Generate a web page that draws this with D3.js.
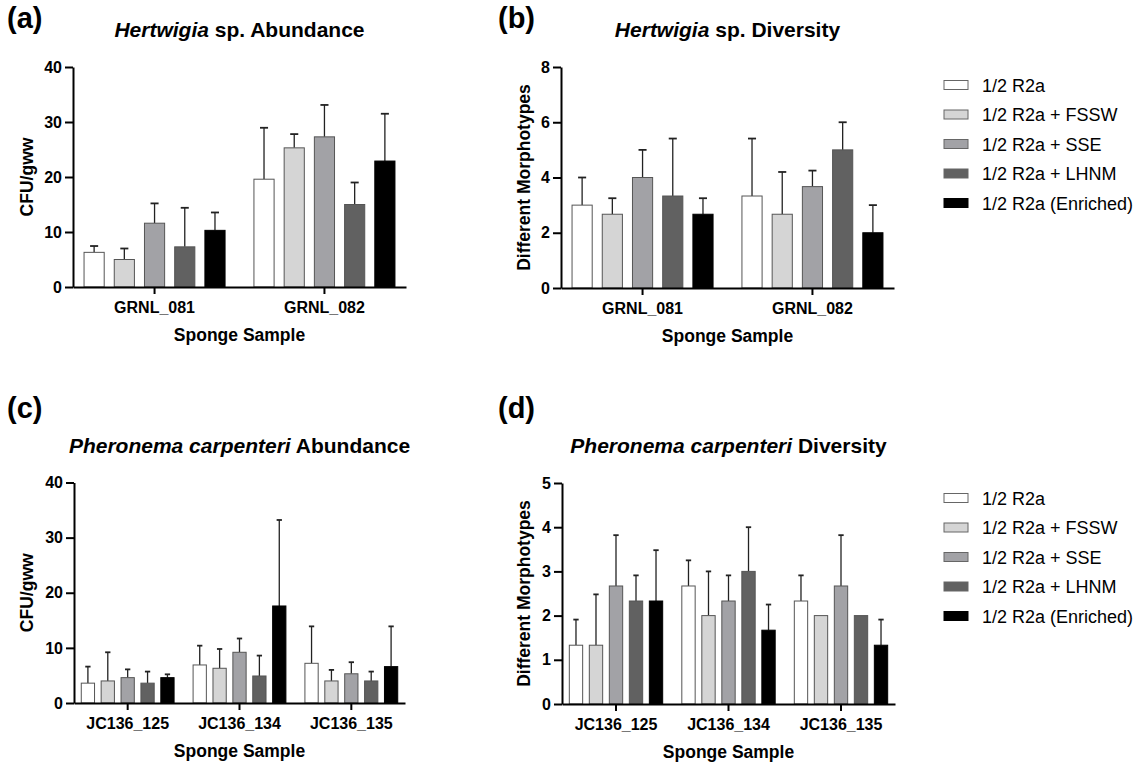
<!DOCTYPE html>
<html>
<head>
<meta charset="utf-8">
<script src="https://cdn.jsdelivr.net/npm/d3@7"></script>
<style>
  body { margin: 0; background: #fff; }
  svg { font-family: Arial, "Liberation Sans", sans-serif; }
  .axis path, .axis line { stroke: #000; stroke-width: 2; }
  .axis text { font-size: 16px; font-weight: bold; fill: #000; }
</style>
</head>
<body>
<svg width="1140" height="764"></svg>
<script>
"use strict"

// media treatments (legend order) and their fills
var media = ["1/2 R2a", "1/2 R2a + FSSW", "1/2 R2a + SSE", "1/2 R2a + LHNM", "1/2 R2a (Enriched)"];
var fills = ["#ffffff", "#d5d5d5", "#a2a2a6", "#616161", "#000000"];

var hertSamples = ["GRNL_081", "GRNL_082"];
var pherSamples = ["JC136_125", "JC136_134", "JC136_135"];

// means and upper error (SD) per sample, one value per medium
var hertAbundMean = [[6.3, 5.0, 11.6, 7.3, 10.3], [19.6, 25.3, 27.3, 15.0, 22.9]];
var hertAbundErr  = [[1.15, 2.0, 3.6, 7.1, 3.25], [9.35, 2.5, 5.8, 4.0, 8.6]];
var hertDivMean   = [[3, 2.67, 4, 3.33, 2.67], [3.33, 2.67, 3.67, 5, 2]];
var hertDivErr    = [[1, 0.58, 1, 2.08, 0.58], [2.08, 1.53, 0.58, 1, 1]];
var pherAbundMean = [[3.6, 4.0, 4.6, 3.6, 4.6], [6.9, 6.3, 9.2, 4.9, 17.6], [7.2, 4.0, 5.3, 4.0, 6.6]];
var pherAbundErr  = [[3.0, 5.2, 1.5, 2.1, 0.6], [3.5, 3.5, 2.5, 3.7, 15.6], [6.7, 2.0, 2.1, 1.7, 7.3]];
var pherDivMean   = [[1.33, 1.33, 2.67, 2.33, 2.33], [2.67, 2.0, 2.33, 3.0, 1.67], [2.33, 2.0, 2.67, 2.0, 1.33]];
var pherDivErr    = [[0.58, 1.15, 1.15, 0.58, 1.15], [0.58, 1.0, 0.58, 1.0, 0.58], [0.58, 0, 1.15, 0, 0.58]];

var abundTicks = [0, 10, 20, 30, 40];
var hertDivTicks = [0, 2, 4, 6, 8];
var pherDivTicks = [0, 1, 2, 3, 4, 5];

var svg = d3.select("svg");

var draw_panel = function(p) {
    var g = svg.append("g");
    var x = d3.scaleBand().domain(p.samples).range([p.x0, p.x1])
        .paddingInner(0.17).paddingOuter(0.065);
    var xi = d3.scaleBand().domain(media).range([0, x.bandwidth()])
        .paddingInner(0.333).paddingOuter(0);
    var y = d3.scaleLinear().domain([0, p.ticks[p.ticks.length - 1]]).range([p.y0, p.y1]);

    // panel letter and title
    g.append("text").attr("x", p.lx).attr("y", p.ly)
        .attr("font-size", 29).attr("font-weight", "bold").text(p.letter);
    var t = g.append("text").attr("x", (p.x0 + p.x1) / 2).attr("y", p.ty)
        .attr("text-anchor", "middle").attr("font-size", 21).attr("font-weight", "bold");
    t.append("tspan").attr("font-style", "italic").text(p.species);
    t.append("tspan").text(" " + p.kind);

    var rows = p.samples.map(function(s, i) {
        return media.map(function(m, j) {
            return {s: s, m: m, j: j, v: p.mean[i][j], e: p.err[i][j]};
        });
    });
    var flat = [].concat.apply([], rows);

    var bars = g.append("g").selectAll("g").data(flat).enter().append("g")
        .attr("transform", function(d) { return "translate(" + (x(d.s) + xi(d.m)) + ",0)"; });
    var w = xi.bandwidth(), cap = w * 0.4;

    bars.filter(function(d) { return d.e > 0; }).append("line")
        .attr("x1", w / 2).attr("x2", w / 2)
        .attr("y1", function(d) { return y(d.v); })
        .attr("y2", function(d) { return y(d.v + d.e); })
        .attr("stroke", "#222").attr("stroke-width", 1.3);
    bars.filter(function(d) { return d.e > 0; }).append("line")
        .attr("x1", w / 2 - cap / 2).attr("x2", w / 2 + cap / 2)
        .attr("y1", function(d) { return y(d.v + d.e); })
        .attr("y2", function(d) { return y(d.v + d.e); })
        .attr("stroke", "#222").attr("stroke-width", 1.8);
    bars.append("rect")
        .attr("x", 0).attr("width", w)
        .attr("y", function(d) { return y(d.v); })
        .attr("height", function(d) { return y(0) - y(d.v); })
        .attr("fill", function(d) { return fills[d.j]; })
        .attr("stroke", function(d) { return d.j === 4 ? "#000" : "#555"; })
        .attr("stroke-width", 1);

    g.append("g").attr("class", "axis")
        .attr("transform", "translate(" + p.x0 + ",0)")
        .call(d3.axisLeft(y).tickValues(p.ticks).tickFormat(d3.format("d"))
            .tickSize(8).tickSizeOuter(0).tickPadding(3));
    g.append("g").attr("class", "axis")
        .attr("transform", "translate(0," + p.y0 + ")")
        .call(d3.axisBottom(x).tickSize(7).tickSizeOuter(0).tickPadding(8));

    g.append("text").attr("x", (p.x0 + p.x1) / 2).attr("y", p.y0 + 54)
        .attr("text-anchor", "middle").attr("font-size", 17.5).attr("font-weight", "bold")
        .text("Sponge Sample");
    g.append("text")
        .attr("transform", "translate(" + p.yx + "," + (p.y0 + p.y1) / 2 + ") rotate(-90)")
        .attr("text-anchor", "middle").attr("font-size", 17.5).attr("font-weight", "bold")
        .text(p.ylabel);
}

var draw_legend = function(lx, ly) {
    var lg = svg.append("g").attr("transform", "translate(" + lx + "," + ly + ")");
    var item = lg.selectAll("g").data(media).enter().append("g")
        .attr("transform", function(d, i) { return "translate(0," + (i * 29.5) + ")"; });
    item.append("rect").attr("x", 0).attr("y", -4.5).attr("width", 24).attr("height", 9)
        .attr("fill", function(d, i) { return fills[i]; })
        .attr("stroke", function(d, i) { return i === 4 ? "#000" : "#666"; });
    item.append("text").attr("x", 38).attr("y", 6.5).attr("font-size", 18).text(function(d) { return d; });
}

draw_panel({letter: "(a)", lx: 7, ly: 28, ty: 37, species: "Hertwigia", kind: "sp. Abundance",
    samples: hertSamples, mean: hertAbundMean, err: hertAbundErr, ticks: abundTicks,
    x0: 73, x1: 406, y0: 287, y1: 67, yx: 33, ylabel: "CFU/gww"});
draw_panel({letter: "(b)", lx: 498, ly: 28, ty: 37, species: "Hertwigia", kind: "sp. Diversity",
    samples: hertSamples, mean: hertDivMean, err: hertDivErr, ticks: hertDivTicks,
    x0: 561, x1: 894, y0: 288, y1: 67, yx: 530, ylabel: "Different Morphotypes"});
draw_panel({letter: "(c)", lx: 7, ly: 418, ty: 453, species: "Pheronema carpenteri", kind: "Abundance",
    samples: pherSamples, mean: pherAbundMean, err: pherAbundErr, ticks: abundTicks,
    x0: 74, x1: 405, y0: 703, y1: 482.5, yx: 33, ylabel: "CFU/gww"});
draw_panel({letter: "(d)", lx: 498, ly: 418, ty: 453, species: "Pheronema carpenteri", kind: "Diversity",
    samples: pherSamples, mean: pherDivMean, err: pherDivErr, ticks: pherDivTicks,
    x0: 562, x1: 895, y0: 704, y1: 483, yx: 530, ylabel: "Different Morphotypes"});

draw_legend(944, 85);
draw_legend(944, 498);
</script>
</body>
</html>
